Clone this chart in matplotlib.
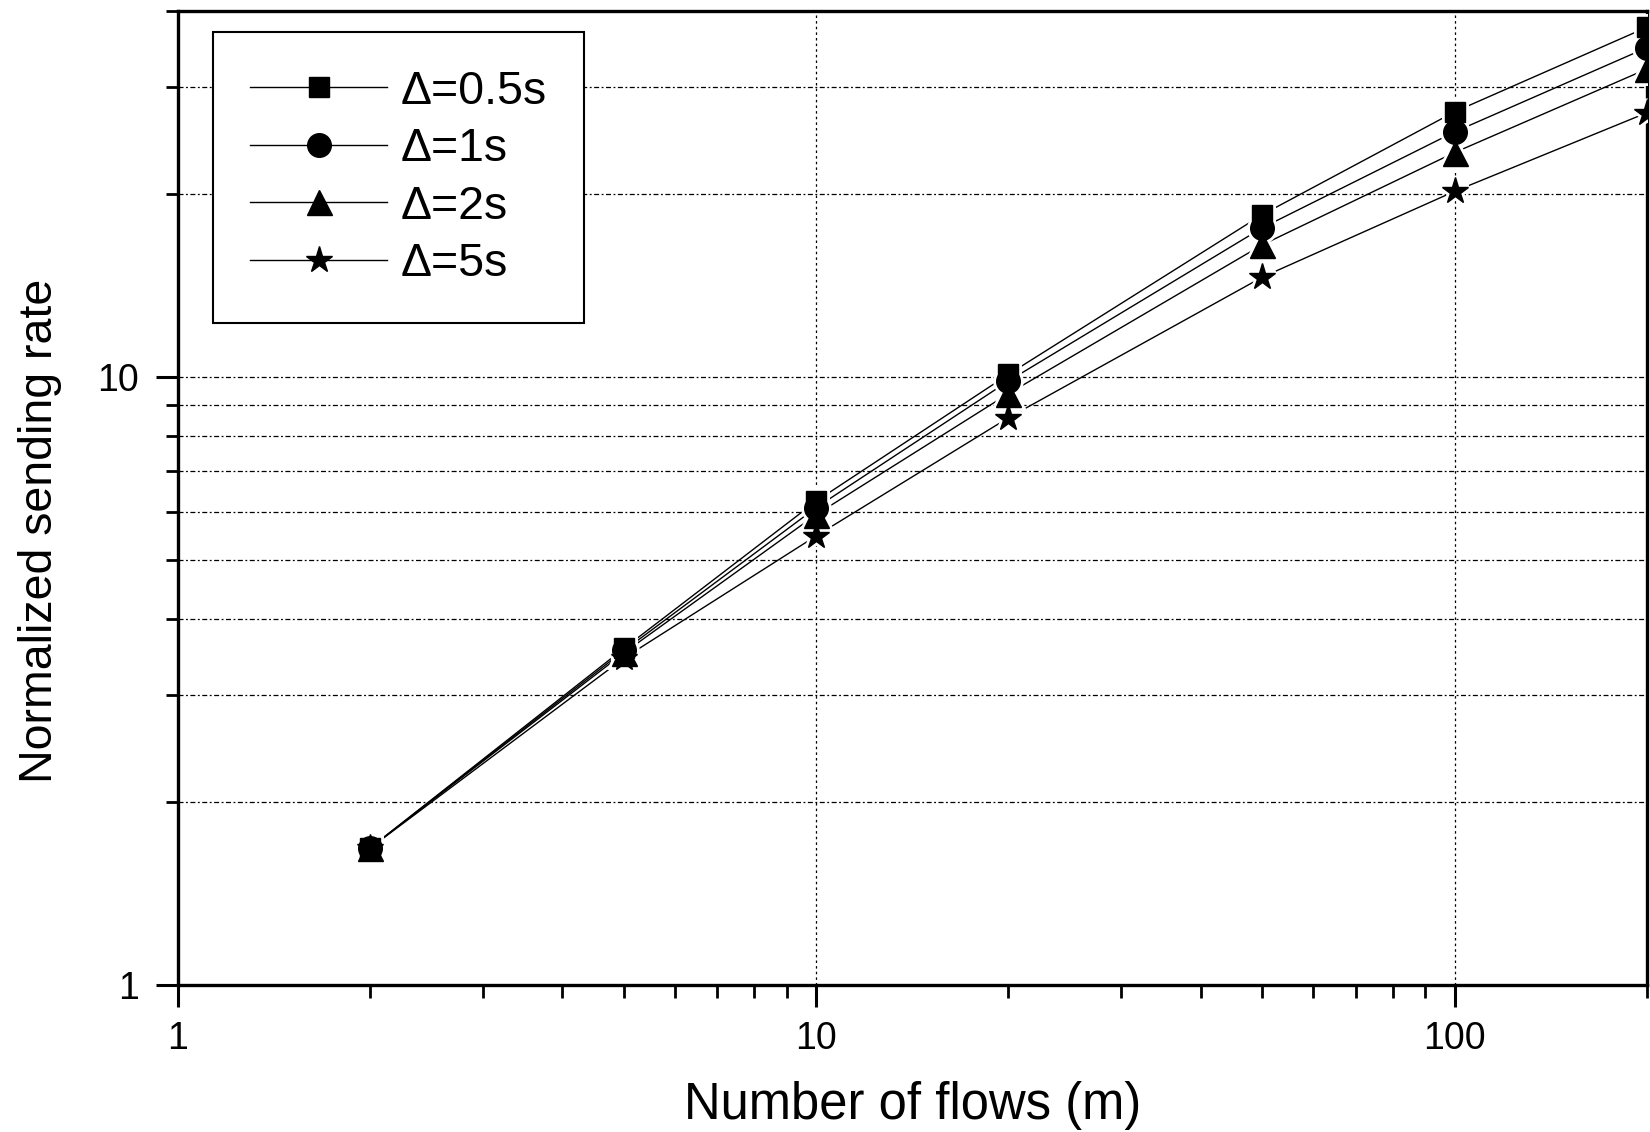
import matplotlib
matplotlib.use("Agg")
import matplotlib.pyplot as plt
from matplotlib.ticker import LogLocator, NullFormatter, FixedFormatter, FixedLocator

# number of flows
flows = [2, 5, 10, 20, 50, 100, 200]

# normalized sending rate for each delta
rate_05s = [1.68, 3.58, 6.25, 10.1, 18.5, 27.3, 37.6]
rate_1s = [1.68, 3.55, 6.10, 9.85, 17.6, 25.3, 34.8]
rate_2s = [1.68, 3.52, 5.94, 9.39, 16.5, 23.4, 32.1]
rate_5s = [1.68, 3.45, 5.48, 8.57, 14.6, 20.2, 27.2]

labels = ["Δ=0.5s", "Δ=1s", "Δ=2s", "Δ=5s"]
series = [rate_05s, rate_1s, rate_2s, rate_5s]
markers = ["s", "o", "^", "*"]
sizes = [15, 17, 18, 20]

plt.rcParams['font.family'] = ['Liberation Sans', 'DejaVu Sans']

fig = plt.figure(figsize=(16.5, 11.32), dpi=100)
ax = fig.add_axes([0.1079, 0.1299, 0.8901, 0.8604])

for vals, m, ms, lab in zip(series, markers, sizes, labels):
    # thin line, markers drawn separately so the line stops short of them
    ax.plot(flows, vals, color="black", lw=1.0, zorder=2)
    ax.plot(flows, vals, ls="none", marker=m, ms=ms, mfc="white",
            mec="white", mew=5, zorder=3)
    ax.plot(flows, vals, ls="none", marker=m, ms=ms, color="black",
            mec="black", zorder=4)
    # legend handle only
    ax.plot([], [], color="black", lw=1.0, marker=m, ms=ms, label=lab)

ax.set_xscale("log")
ax.set_yscale("log")
ax.set_xlim(1, 200)
ax.set_ylim(1, 40)

ax.xaxis.set_major_locator(FixedLocator([1, 10, 100]))
ax.xaxis.set_major_formatter(FixedFormatter(["1", "10", "100"]))
ax.xaxis.set_minor_locator(LogLocator(base=10, subs=range(2, 10)))
ax.xaxis.set_minor_formatter(NullFormatter())
ax.yaxis.set_major_locator(FixedLocator([1, 10]))
ax.yaxis.set_major_formatter(FixedFormatter(["1", "10"]))
ax.yaxis.set_minor_locator(LogLocator(base=10, subs=range(2, 10)))
ax.yaxis.set_minor_formatter(NullFormatter())

ax.tick_params(which="major", direction="out", length=16, width=2.2,
               labelsize=27, pad=10)
ax.tick_params(which="minor", direction="out", length=9, width=2.0)
ax.tick_params(axis="y", which="major", pad=12)

for sp in ax.spines.values():
    sp.set_linewidth(2.4)

ax.grid(True, axis="y", which="both", color="black", lw=0.9,
        ls=(0, (4, 2, 1.5, 2)))
ax.grid(True, axis="x", which="major", color="black", lw=0.9,
        ls=(0, (2, 2.5)))
ax.set_axisbelow(True)

leg = ax.legend(loc="upper left", bbox_to_anchor=(0.0238, 0.978),
                fontsize=33.5, frameon=True, fancybox=False, framealpha=1,
                edgecolor="black", handlelength=2.95, handletextpad=0.28,
                labelspacing=0.29, borderpad=0.8, borderaxespad=0)
leg.get_frame().set_linewidth(1.5)

fig.text(913 / 1650, 1 - 1105 / 1132, "Number of flows (m)", fontsize=36.5,
         ha="center", va="center")
fig.text(40 / 1650, 1 - 531 / 1132, "Normalized sending rate", fontsize=33.5,
         ha="center", va="center", rotation=90)

fig.savefig("out.png", dpi=100)
